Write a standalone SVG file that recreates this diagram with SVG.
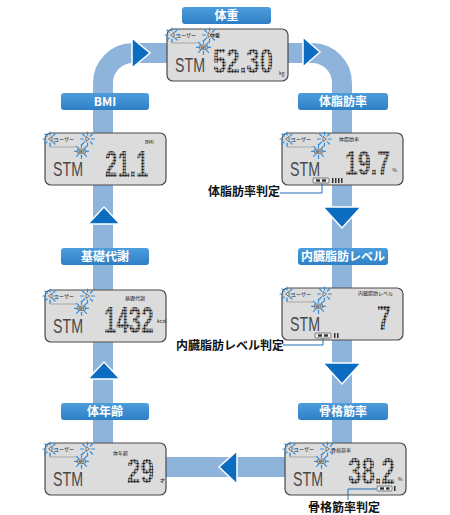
<svg xmlns="http://www.w3.org/2000/svg" xmlns:xlink="http://www.w3.org/1999/xlink" width="450" height="515" viewBox="0 0 450 515">
<style>
.lbl{fill:url(#lblg)}
.lt{font-family:"Noto Sans CJK JP","Noto Sans",sans-serif;font-size:12px;font-weight:bold;fill:#fff;text-anchor:middle}
.arr{fill:#0b6cc0;stroke:#fff;stroke-width:1.5;stroke-linejoin:miter}
.lcd{fill:#dcdcdc;stroke:#4a4a4a;stroke-width:1.2}
.stm{font-family:"Liberation Sans",Arial,sans-serif;font-size:21px;fill:#4a4a4a}
.dig{font-family:"Liberation Sans",Arial,sans-serif;font-weight:bold;font-size:36px;fill:url(#dots)}
.sm{font-family:"Noto Sans CJK JP","Noto Sans",sans-serif;font-size:5px;fill:#222}
.lead{fill:none;stroke:#1f6fb5;stroke-width:1}
.jt{font-family:"Noto Sans CJK JP","Noto Sans",sans-serif;font-size:12px;font-weight:bold;fill:#111}
.ray{stroke:#2e8fe0;stroke-width:1.2;stroke-linecap:round}
</style>
<defs>
<linearGradient id="lblg" x1="0" y1="0" x2="0" y2="1">
<stop offset="0" stop-color="#4d9ddc"/>
<stop offset="1" stop-color="#2f7fc6"/>
</linearGradient>
<pattern id="dots" patternUnits="userSpaceOnUse" width="4.5" height="3">
<ellipse cx="2.25" cy="1.5" rx="1.9" ry="1.35" fill="#1a1a1a"/>
</pattern>
<g id="spark">
<line class="ray" x1="0" y1="-4" x2="0" y2="-7"/>
<line class="ray" x1="0" y1="4" x2="0" y2="7"/>
<line class="ray" x1="-4" y1="0" x2="-7" y2="0"/>
<line class="ray" x1="4" y1="0" x2="7" y2="0"/>
<line class="ray" x1="2.8" y1="2.8" x2="5" y2="5"/>
<line class="ray" x1="-2.8" y1="2.8" x2="-5" y2="5"/>
<line class="ray" x1="2.8" y1="-2.8" x2="5" y2="-5"/>
<line class="ray" x1="-2.8" y1="-2.8" x2="-5" y2="-5"/>
</g>
<g id="lcdbase">
<rect class="lcd" x="0" y="0" width="121" height="52" rx="6"/>
<polygon points="7,3.5 3.5,6 7,8.5" fill="none" stroke="#333" stroke-width="0.6"/>
<text class="sm" x="9" y="8">ユーザー</text>
<polygon points="41,3.5 44.5,6 41,8.5" fill="none" stroke="#333" stroke-width="0.6"/>
<polyline points="5,10 5,14 31,14" fill="none" stroke="#888" stroke-width="0.6"/>
<rect x="32" y="16" width="9" height="4.5" rx="2" fill="#bbb" stroke="#444" stroke-width="0.5"/>
<text x="36.5" y="19.5" font-family="Liberation Sans,sans-serif" font-size="3" text-anchor="middle" fill="#222">SET</text>
<use xlink:href="#spark" x="5" y="6"/>
<use xlink:href="#spark" x="42.5" y="6"/>
<use xlink:href="#spark" x="36.5" y="18.3"/>
<text class="stm" x="8" y="43" textLength="30" lengthAdjust="spacingAndGlyphs">STM</text>
</g>
</defs>
<rect width="450" height="515" fill="#fff"/>

<g id="connectors">
<path d="M103,480 V83 A30,30 0 0 1 133,53 H312 A30,30 0 0 1 342,83 V467 H120" fill="none" stroke="#8fb4dc" stroke-width="20"/>
<polygon class="arr" points="132,38 150,53 132,68"/>
<polygon class="arr" points="303,37 320,52 303,67"/>
<polygon class="arr" points="323,207 342,228 361,207"/>
<polygon class="arr" points="323,363 342,384 361,363"/>
<polygon class="arr" points="237,451 219,467 237,484"/>
<polygon class="arr" points="88,224 104,207 120,224"/>
<polygon class="arr" points="88,379 104,362 120,379"/>
</g>

<g id="weight">
<rect class="lbl" x="182" y="7" width="89" height="17" rx="3"/>
<text class="lt" x="226.5" y="20">体重</text>
<use xlink:href="#lcdbase" x="167" y="29"/>
<text class="sm" x="210" y="37">体重</text>
<text class="dig" transform="translate(213,73) scale(0.667,1)">52.30</text>
<text class="sm" x="279" y="75" font-size="4.5">kg</text>
</g>

<g id="bmi">
<rect class="lbl" x="61" y="93" width="88" height="17" rx="3"/>
<text class="lt" x="105" y="106">BMI</text>
<use xlink:href="#lcdbase" x="45" y="133"/>
<text class="sm" x="145" y="143.5" font-size="4.5">BMI</text>
<text class="dig" transform="translate(105,177) scale(0.62,1)">21.1</text>
</g>

<g id="bodyfat">
<rect class="lbl" x="298" y="93" width="90" height="17" rx="3"/>
<text class="lt" x="343" y="106">体脂肪率</text>
<use xlink:href="#lcdbase" x="282" y="133"/>
<text class="sm" x="339" y="141">体脂肪率</text>
<text class="dig" transform="translate(345,175) scale(0.643,1)">19.7</text>
<text class="sm" x="392.5" y="172" font-size="6">%</text>
<rect x="313" y="178" width="16" height="5" rx="1" fill="#eee" stroke="#333" stroke-width="0.6"/>
<rect x="316" y="179.3" width="4" height="2.4" fill="#333"/>
<rect x="322" y="179.3" width="4" height="2.4" fill="#333"/>
<g fill="#333"><rect x="332" y="178" width="1.5" height="5"/><rect x="335" y="178" width="1.5" height="5"/><rect x="338" y="178" width="1.5" height="5"/><rect x="341" y="178" width="1.5" height="5"/></g>
<polyline class="lead" points="280,193 322,193 322,183.5"/>
<text class="jt" x="208" y="196">体脂肪率判定</text>
</g>

<g id="bmr">
<rect class="lbl" x="61" y="248" width="88" height="17" rx="3"/>
<text class="lt" x="105" y="261">基礎代謝</text>
<use xlink:href="#lcdbase" x="45" y="290"/>
<text class="sm" x="125" y="299.5">基礎代謝</text>
<text class="dig" transform="translate(104,333) scale(0.62,1)">1432</text>
<text class="sm" x="157" y="323" font-size="4">kcal</text>
</g>

<g id="visceral">
<rect class="lbl" x="298" y="248" width="90" height="17" rx="3"/>
<text class="lt" x="343" y="261" font-size="11.5">内臓脂肪レベル</text>
<use xlink:href="#lcdbase" x="282" y="288"/>
<text class="sm" x="358" y="295" font-size="4.7">内臓脂肪レベル</text>
<text class="dig" transform="translate(377,330) scale(0.7,1)">7</text>
<rect x="315" y="333" width="16" height="5" rx="1" fill="#eee" stroke="#333" stroke-width="0.6"/>
<rect x="318" y="334.3" width="4" height="2.4" fill="#333"/>
<rect x="324" y="334.3" width="4" height="2.4" fill="#333"/>
<g fill="#333"><rect x="334" y="333" width="1.5" height="5"/><rect x="337" y="333" width="1.5" height="5"/></g>
<polyline class="lead" points="283,345 323,345 323,338.5"/>
<text class="jt" x="176" y="350">内臓脂肪レベル判定</text>
</g>

<g id="bodyage">
<rect class="lbl" x="61" y="403" width="88" height="17" rx="3"/>
<text class="lt" x="105" y="416">体年齢</text>
<use xlink:href="#lcdbase" x="45" y="443"/>
<text class="sm" x="113" y="455" font-size="4.5">体年齢</text>
<text class="dig" transform="translate(127,483) scale(0.675,1)">29</text>
<text class="sm" x="160" y="482">才</text>
</g>

<g id="muscle">
<rect class="lbl" x="298" y="403" width="90" height="17" rx="3"/>
<text class="lt" x="343" y="416">骨格筋率</text>
<use xlink:href="#lcdbase" x="285" y="443"/>
<text class="sm" x="331" y="451.5">骨格筋率</text>
<text class="dig" transform="translate(348,484) scale(0.671,1)">38.2</text>
<text class="sm" x="398" y="481" font-size="6">%</text>
<rect x="377" y="486" width="15" height="5" rx="1" fill="#eee" stroke="#333" stroke-width="0.6"/>
<rect x="380" y="487.3" width="4" height="2.4" fill="#333"/>
<rect x="386" y="487.3" width="3.5" height="2.4" fill="#333"/>
<rect x="394" y="486" width="1.5" height="5" fill="#333"/>
<polyline class="lead" points="376.5,489 348,489 348,500"/>
<text class="jt" x="308" y="512">骨格筋率判定</text>
</g>
</svg>
